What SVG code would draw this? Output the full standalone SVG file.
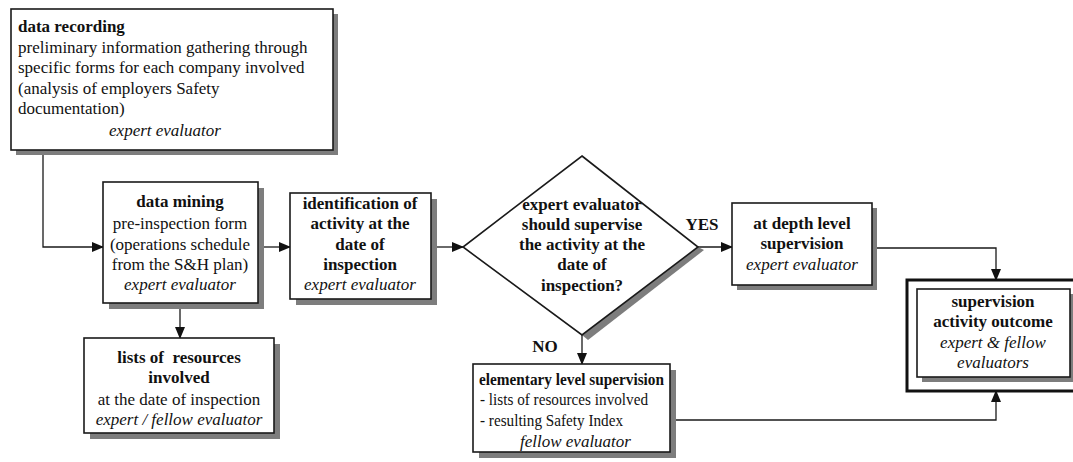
<svg xmlns="http://www.w3.org/2000/svg" width="1073" height="462" viewBox="0 0 1073 462">
<defs>
<marker id="arr" markerUnits="userSpaceOnUse" markerWidth="12" markerHeight="10" refX="11" refY="5" orient="auto">
<path d="M0,0 L12,5 L0,10 Z" fill="#111"/>
</marker>
</defs>
<style>
text{font-family:"Liberation Serif","Times New Roman",serif;font-size:17px;fill:#111}
.b{font-weight:bold}
.i{font-style:italic}
.c{text-anchor:middle}
.box{fill:#fff;stroke:#1a1a1a;stroke-width:1.6}
.sh{fill:#7d7d7d}
.ln{fill:none;stroke:#1a1a1a;stroke-width:1.3;marker-end:url(#arr)}
</style>
<rect width="1073" height="462" fill="#fff"/>
<g id="connectors">
<path class="ln" d="M43,150 V247 H103"/>
<path class="ln" d="M258,247 H290"/>
<path class="ln" d="M431,247 H463"/>
<path class="ln" d="M698,247 H732"/>
<path class="ln" d="M872,248 H996 V280"/>
<path class="ln" d="M582,335 V364"/>
<path class="ln" d="M670,420 H996 V391"/>
<path class="ln" d="M180,303 V338"/>
<text class="b c" x="702" y="230">YES</text>
<text class="b c" x="545" y="352">NO</text>
</g>
<g id="data-recording">
<rect class="sh" x="16" y="14" width="322" height="141"/>
<rect class="box" x="11" y="9" width="322" height="141"/>
<text class="b" x="18" y="32">data recording</text>
<text x="18" y="53">preliminary information gathering through</text>
<text x="18" y="73">specific forms for each company involved</text>
<text x="18" y="94">(analysis of employers Safety</text>
<text x="18" y="114">documentation)</text>
<text class="i c" x="165" y="136">expert evaluator</text>
</g>
<g id="data-mining">
<rect class="sh" x="109" y="188" width="155" height="121"/>
<rect class="box" x="103" y="182" width="155" height="121"/>
<text class="b c" x="180" y="207">data mining</text>
<text class="c" x="180" y="229">pre-inspection form</text>
<text class="c" x="180" y="250">(operations schedule</text>
<text class="c" x="180" y="270">from the S&amp;H plan)</text>
<text class="i c" x="180" y="290">expert evaluator</text>
</g>
<g id="identification">
<rect class="sh" x="296" y="199" width="141" height="106"/>
<rect class="box" x="290" y="193" width="141" height="106"/>
<text class="b c" x="360" y="209">identification of</text>
<text class="b c" x="360" y="229">activity at the</text>
<text class="b c" x="360" y="250">date of</text>
<text class="b c" x="360" y="270">inspection</text>
<text class="i c" x="360" y="290">expert evaluator</text>
</g>
<g id="decision">
<polygon class="sh" points="698,247 704,250 588,340 582,335"/>
<polygon class="box" points="582,156 698,247 582,335 463,247"/>
<text class="b c" x="582" y="210">expert evaluator</text>
<text class="b c" x="582" y="230">should supervise</text>
<text class="b c" x="582" y="250">the activity at the</text>
<text class="b c" x="582" y="270">date of</text>
<text class="b c" x="582" y="291">inspection?</text>
</g>
<g id="depth-supervision">
<rect class="sh" x="737" y="208" width="140" height="82"/>
<rect class="box" x="732" y="203" width="140" height="82"/>
<text class="b c" x="802" y="229">at depth level</text>
<text class="b c" x="802" y="249">supervision</text>
<text class="i c" x="802" y="270">expert evaluator</text>
</g>
<g id="outcome">
<rect x="907" y="280" width="170" height="111" fill="#fff" stroke="#111" stroke-width="3"/>
<rect class="sh" x="922" y="294" width="153" height="88"/>
<rect class="box" x="917" y="289" width="153" height="88"/>
<text class="b c" x="993" y="307">supervision</text>
<text class="b c" x="993" y="327">activity outcome</text>
<text class="i c" x="993" y="348">expert &amp; fellow</text>
<text class="i c" x="993" y="368">evaluators</text>
</g>
<g id="lists-resources">
<rect class="sh" x="90" y="344" width="190" height="95"/>
<rect class="box" x="84" y="338" width="190" height="95"/>
<text class="b c" x="179" y="363" style="white-space:pre">lists of  resources</text>
<text class="b c" x="179" y="383">involved</text>
<text class="c" x="179" y="405">at the date of inspection</text>
<text class="i c" x="179" y="425">expert / fellow evaluator</text>
</g>
<g id="elementary-supervision">
<rect class="sh" x="479" y="370" width="197" height="88"/>
<rect class="box" x="473" y="364" width="197" height="88"/>
<text class="b" x="479" y="385" textLength="185" lengthAdjust="spacingAndGlyphs">elementary level supervision</text>
<text x="480" y="405" textLength="168" lengthAdjust="spacingAndGlyphs">- lists of resources involved</text>
<text x="480" y="426" textLength="143" lengthAdjust="spacingAndGlyphs">- resulting Safety Index</text>
<text class="i" x="520" y="447">fellow evaluator</text>
</g>
</svg>
